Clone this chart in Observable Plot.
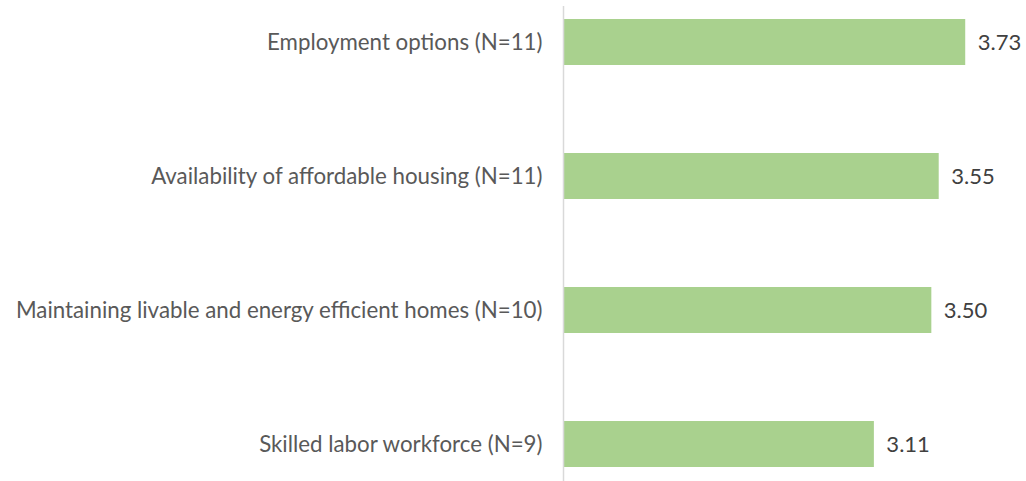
<!DOCTYPE html>
<html>
<head>
<meta charset="utf-8">
<script src="https://cdn.jsdelivr.net/npm/d3@7"></script>
<script src="https://cdn.jsdelivr.net/npm/@observablehq/plot@0.6"></script>
<style>
  html, body { margin: 0; padding: 0; background: #fff; }
  #chart svg { display: block; }
</style>
</head>
<body>
<div id="chart"></div>
<script>
const categories = [
  "Employment options (N=11)",
  "Availability of affordable housing (N=11)",
  "Maintaining livable and energy efficient homes (N=10)",
  "Skilled labor workforce (N=9)"
];
const values = [3.73, 3.55, 3.50, 3.11];
const valueLabels = ["3.73", "3.55", "3.50", "3.11"];

const data = categories.map((c, i) => ({category: c, value: values[i], label: valueLabels[i]}));

const chart = Plot.plot({
  width: 1026,
  height: 481,
  marginLeft: 563,
  marginRight: 21,
  marginTop: 19,
  marginBottom: 14,
  style: {fontFamily: "Lato, 'Open Sans', sans-serif", fontSize: "22px", background: "#fff"},
  x: {domain: [1, 4], axis: null},
  y: {domain: categories, paddingInner: 0.66, paddingOuter: 0, label: null},
  marks: [
    Plot.barX(data, {x1: 1, x2: "value", y: "category", fill: "#a9d18e", insetLeft: 1}),
    Plot.ruleX([1], {stroke: "#d9d9d9", strokeWidth: 1.5, insetTop: -13, insetBottom: -14}),
    Plot.axisY({tickSize: 0, tickPadding: 21, fontSize: 22.3, color: "#595959", label: null}),
    Plot.text(data, {x: "value", y: "category", text: "label", textAnchor: "start", dx: 12, fill: "#404040", fontSize: 22})
  ]
});
document.getElementById("chart").appendChild(chart);
</script>
</body>
</html>
